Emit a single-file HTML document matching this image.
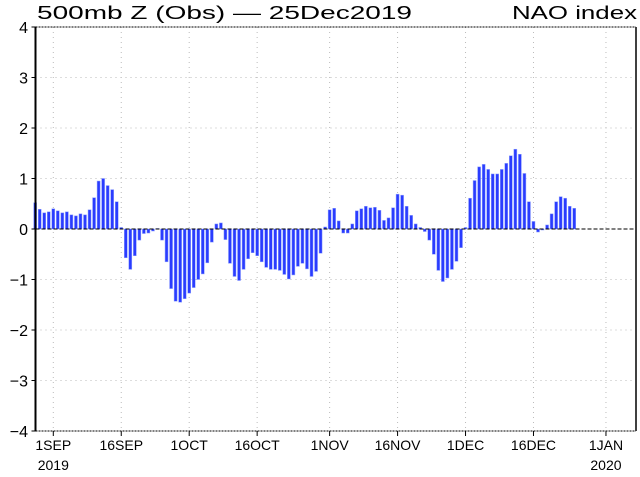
<!DOCTYPE html>
<html><head><meta charset="utf-8">
<style>
html,body{margin:0;padding:0;background:#fff;width:640px;height:477px;overflow:hidden}
svg text{font-family:"Liberation Sans",sans-serif;fill:#000}
</style></head>
<body>
<svg id="chart" width="640" height="477" xmlns="http://www.w3.org/2000/svg">
<text x="37" y="19" font-size="18" textLength="375" lengthAdjust="spacingAndGlyphs">500mb Z (Obs) — 25Dec2019</text>
<text x="512" y="19" font-size="18" textLength="125" lengthAdjust="spacingAndGlyphs">NAO index</text>
<g id="grid"></g>
<g id="bars"></g>
<g id="axes"></g>
</svg>
<script>
const startDate = "2019-08-28";
const naoValues = [0.52,0.39,0.32,0.34,0.40,0.36,0.32,0.34,0.28,0.26,0.30,0.28,0.38,0.62,0.95,1.0,0.86,0.78,0.54,0.03,
-0.57,-0.80,-0.53,-0.22,-0.09,-0.08,-0.04,0.01,-0.22,-0.65,-1.18,-1.43,-1.45,-1.38,-1.27,-1.16,-1.0,-0.89,-0.67,-0.26,
0.10,0.12,-0.21,-0.68,-0.94,-1.02,-0.80,-0.59,-0.47,-0.53,-0.65,-0.76,-0.80,-0.80,-0.82,-0.90,-0.99,-0.91,-0.74,-0.68,
-0.79,-0.94,-0.84,-0.48,0.04,0.38,0.41,0.16,-0.08,-0.08,0.10,0.36,0.40,0.45,0.42,0.43,0.37,0.17,0.22,0.42,
0.69,0.67,0.45,0.27,0.10,0.03,-0.05,-0.22,-0.50,-0.82,-1.04,-0.97,-0.80,-0.64,-0.37,0.03,0.61,0.96,1.23,1.28,
1.18,1.09,1.09,1.18,1.30,1.45,1.58,1.48,1.10,0.54,0.15,-0.06,-0.02,0.08,0.30,0.54,0.64,0.61,0.45,0.41];
const yTicks = [4,3,2,1,0,-1,-2,-3,-4];
const yTickLabels = ["4","3","2","1","0","\u22121","\u22122","\u22123","\u22124"];
const xTickDates = ["2019-09-01","2019-09-16","2019-10-01","2019-10-16","2019-11-01","2019-11-16","2019-12-01","2019-12-16","2020-01-01"];
const xTickLabels = ["1SEP","16SEP","1OCT","16OCT","1NOV","16NOV","1DEC","16DEC","1JAN"];
const xTickYears = ["2019","","","","","","","","2020"];

const NS="http://www.w3.org/2000/svg";
const L=35.5,R=636,T=27,B=431;
const day0=Date.UTC(2019,8,1);
function dayOf(s){const p=s.split("-");return (Date.UTC(+p[0],+p[1]-1,+p[2])-day0)/86400000;}
function xScale(d){return 53.3+d*4.53;}
function yScale(v){return 229-v*50.5;}
function mk(tag,attrs,parent){const e=document.createElementNS(NS,tag);for(const k in attrs)e.setAttribute(k,attrs[k]);parent.appendChild(e);return e;}
const grid=document.getElementById("grid"),bars=document.getElementById("bars"),axes=document.getElementById("axes");

yTicks.forEach((v,i)=>{
  const y=yScale(v);
  if(v!==0&&v!==4&&v!==-4){
    const g=mk("line",{x1:L,x2:R,y1:y,y2:y,stroke:"#bbb","stroke-width":1,"stroke-dasharray":"1,4"},grid);
    
    
  }
  const t=mk("line",{x1:L-4,x2:L,y1:y,y2:y,stroke:"#000"},axes);
  
  
  const lb=mk("text",{x:28,y:y+6,"font-size":16,"text-anchor":"end"},axes);
  lb.textContent=yTickLabels[i];
  
  
});
xTickDates.forEach((s,i)=>{
  const x=xScale(dayOf(s));
  const g=mk("line",{x1:x,x2:x,y1:T,y2:B,stroke:"#bbb","stroke-width":1,"stroke-dasharray":"1,4"},grid);
  
  
  const t=mk("line",{x1:x,x2:x,y1:B,y2:B+5,stroke:"#000"},axes);
  
  
  const lb=mk("text",{x:x,y:450,"font-size":14,"text-anchor":"middle"},axes);
  lb.textContent=xTickLabels[i];
  
  
  if(xTickYears[i]){
    const yl=mk("text",{x:x,y:470,"font-size":14,"text-anchor":"middle"},axes);
    yl.textContent=xTickYears[i];
    
    
  }
});
const sd=dayOf(startDate);
naoValues.forEach((v,i)=>{
  const x=xScale(sd+i);
  const y0=yScale(0),y1=yScale(v);
  const r=mk("rect",{x:x-1.5,y:Math.min(y0,y1),width:3,height:Math.max(0.5,Math.abs(y1-y0)),fill:"#2a3cff",stroke:"#8fa0ff","stroke-width":0.5},bars);
  
  
});
const z=mk("line",{x1:L,x2:R,y1:yScale(0),y2:yScale(0),stroke:"#000","stroke-width":1,"stroke-dasharray":"4,2"},axes);


const tb=mk("line",{x1:L,x2:R,y1:T,y2:T,stroke:"#000","stroke-dasharray":"2,1"},axes);


const bb=mk("line",{x1:L,x2:R,y1:B,y2:B,stroke:"#000","stroke-dasharray":"2,1"},axes);


const lb2=mk("line",{x1:L,x2:L,y1:T,y2:B,stroke:"#000","stroke-width":2},axes);


const rb=mk("line",{x1:R,x2:R,y1:T,y2:B,stroke:"#000","stroke-width":1.5},axes);


</script>
</body></html>
